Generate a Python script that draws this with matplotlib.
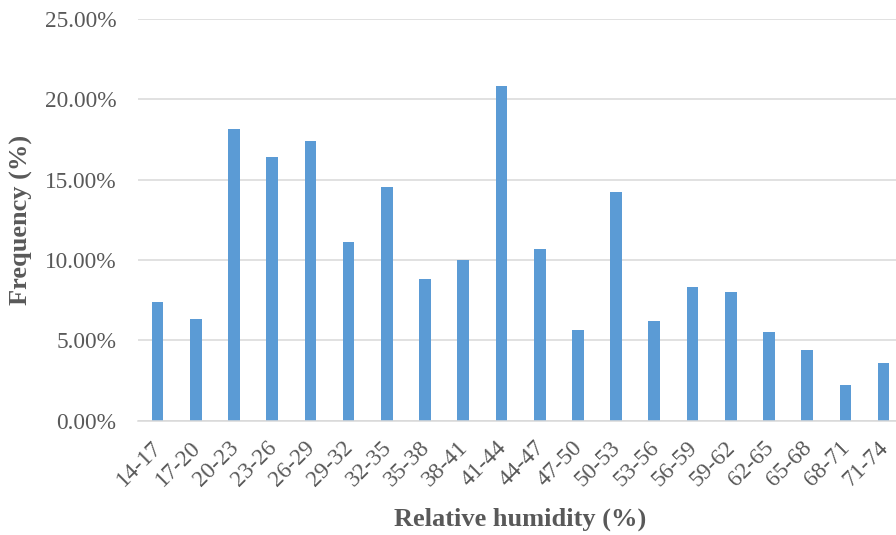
import matplotlib
matplotlib.use("Agg")
import matplotlib.pyplot as plt
import numpy as np
from matplotlib.ticker import PercentFormatter
from matplotlib.transforms import ScaledTranslation

# humidity classes and share of observations (%)
categories = ["14-17", "17-20", "20-23", "23-26", "26-29", "29-32", "32-35",
              "35-38", "38-41", "41-44", "44-47", "47-50", "50-53", "53-56",
              "56-59", "59-62", "62-65", "65-68", "68-71", "71-74"]
frequency = [7.36, 6.34, 18.14, 16.40, 17.38, 11.09, 14.53, 8.79, 9.99, 20.83,
             10.68, 5.62, 14.20, 6.18, 8.30, 8.02, 5.54, 4.42, 2.20, 3.59]
y_ticks = [0, 5, 10, 15, 20, 25]

plt.rcParams['font.family'] = ['Liberation Serif', 'DejaVu Serif']
txt = '#595959'

fig = plt.figure(figsize=(8.96, 5.35), dpi=100)
# axes runs slightly past the right edge, like the cropped source
ax = fig.add_axes([0.1545, 0.2136, 0.853, 0.7514])

x = np.arange(len(categories))
ax.bar(x, frequency, width=0.305, color='#5B9BD5', zorder=3)

ax.set_xlim(-0.5, len(categories) - 0.5)
ax.set_ylim(0, 25)
ax.set_yticks(y_ticks)
ax.yaxis.set_major_formatter(PercentFormatter(xmax=100, decimals=2))
ax.grid(axis='y', color='#D9D9D9', linewidth=1.1, zorder=0)

for s in ['top', 'right', 'left']:
    ax.spines[s].set_visible(False)
ax.spines['bottom'].set_color('#D9D9D9')
ax.spines['bottom'].set_linewidth(1.1)
ax.spines['bottom'].set_zorder(4)

ax.tick_params(axis='y', length=0, pad=16, labelsize=16.8, labelcolor=txt)
ax.tick_params(axis='x', length=0, pad=12, labelsize=16.8, labelcolor=txt)
ax.set_xticks(x)
ax.set_xticklabels(categories, rotation=45, ha='right', va='top',
                   rotation_mode='anchor')
# nudge rotated labels a little to the left
shift = ScaledTranslation(-6 / 100, 0, fig.dpi_scale_trans)
for lab in ax.get_xticklabels():
    lab.set_transform(lab.get_transform() + shift)

ax.set_ylabel('Frequency (%)', fontsize=19, fontweight='bold', color=txt)
ax.yaxis.set_label_coords(-0.138, 0.5)
ax.set_xlabel('Relative humidity (%)', fontsize=19, fontweight='bold', color=txt)
ax.xaxis.set_label_coords(0.5, -0.217)

fig.savefig('out.png', dpi=100)
